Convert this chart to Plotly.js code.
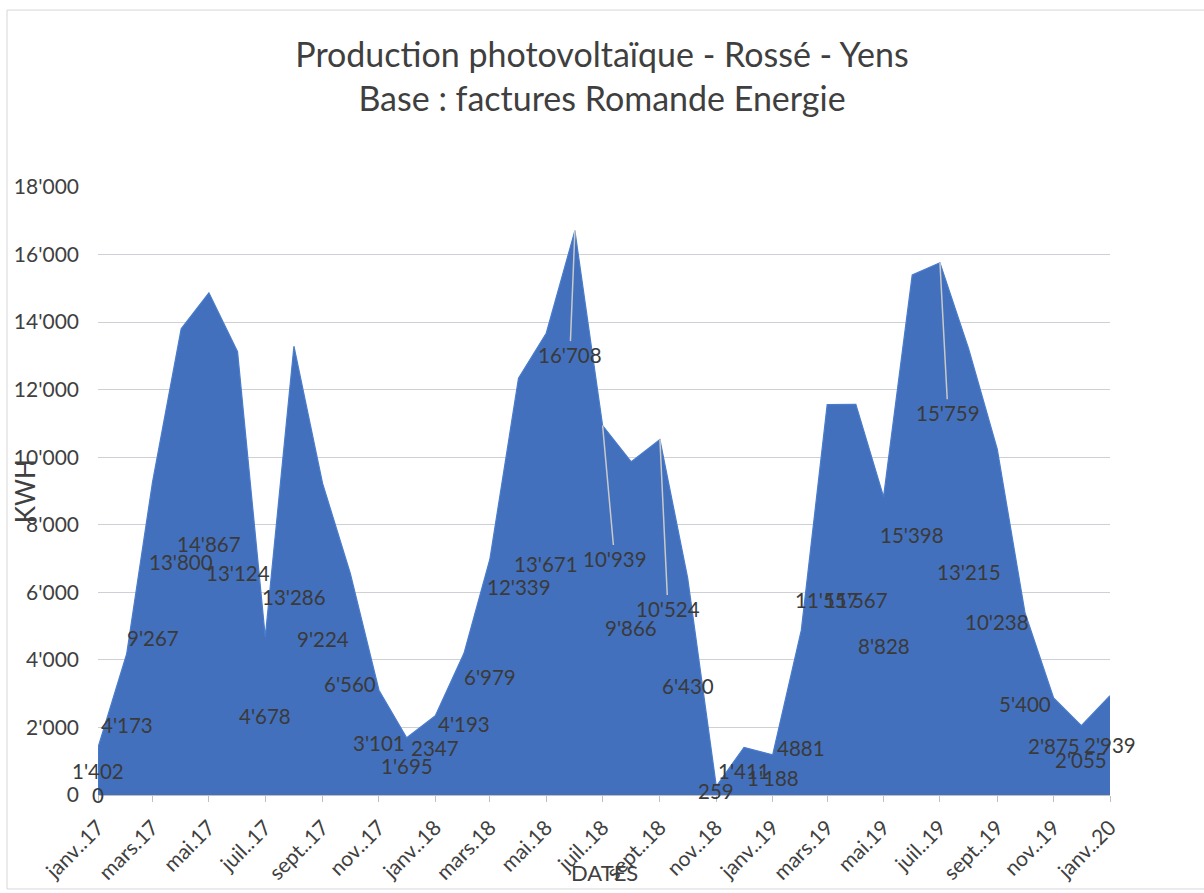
<!DOCTYPE html>
<html>
<head>
<meta charset="utf-8">
<script src="https://cdn.plot.ly/plotly-3.0.1.min.js"></script>
<style>html,body{margin:0;padding:0;background:#fff;}#chart{width:1204px;height:893px;}</style>
</head>
<body>
<div id="chart"></div>
<script>
// ---- data ----
const dates = ['2017-01-01','2017-01-01','2017-02-01','2017-03-01','2017-04-01','2017-05-01','2017-06-01','2017-07-01','2017-08-01','2017-09-01','2017-10-01','2017-11-01','2017-12-01',
  '2018-01-01','2018-02-01','2018-03-01','2018-04-01','2018-05-01','2018-06-01','2018-07-01','2018-08-01','2018-09-01','2018-10-01','2018-11-01','2018-12-01',
  '2019-01-01','2019-02-01','2019-03-01','2019-04-01','2019-05-01','2019-06-01','2019-07-01','2019-08-01','2019-09-01','2019-10-01','2019-11-01','2019-12-01',
  '2020-01-01'];
const kwh = [0,1402,4173,9267,13800,14867,13124,4678,13286,9224,6560,3101,1695,
  2347,4193,6979,12339,13671,16708,10939,9866,10524,6430,259,1411,
  1188,4881,11557,11567,8828,15398,15759,13215,10238,5400,2875,2055,
  2939];
const labels = ["0","1'402","4'173","9'267","13'800","14'867","13'124","4'678","13'286","9'224","6'560","3'101","1'695",
  "2347","4'193","6'979","12'339","13'671","16'708","10'939","9'866","10'524","6'430","259","1'411",
  "1'188","4881","11'557","11'567","8'828","15'398","15'759","13'215","10'238","5'400","2'875","2'055",
  "2'939"];
const tickDates = ['2017-01-01','2017-03-01','2017-05-01','2017-07-01','2017-09-01','2017-11-01',
  '2018-01-01','2018-03-01','2018-05-01','2018-07-01','2018-09-01','2018-11-01',
  '2019-01-01','2019-03-01','2019-05-01','2019-07-01','2019-09-01','2019-11-01','2020-01-01'];
const tickLabels = ['janv..17','mars.17','mai.17','juil..17','sept..17','nov..17',
  'janv..18','mars.18','mai.18','juil..18','sept..18','nov..18',
  'janv..19','mars.19','mai.19','juil..19','sept..19','nov..19','janv..20'];
const yTicks = [0,2000,4000,6000,8000,10000,12000,14000,16000,18000];

// ---- style / label placement tweaks ----
const FONT = 'Lato, "Open Sans", sans-serif';
const leaders = {18:{ax:-5,ay:124}, 19:{ax:12,ay:133}, 21:{ax:8,ay:169}, 31:{ax:8,ay:150}};
const shifts = {8:-26, 13:7, 25:-3, 26:-35};

const annotations = kwh.map((v,i)=>{
  const base = {x:dates[i], xref:'x', yref:'y', text:labels[i],
    font:{family:FONT, size:20.5, color:'#3a3a3a'}};
  if (leaders[i]) {
    return Object.assign(base, {y:v, showarrow:true, arrowhead:0, arrowwidth:1.5,
      arrowcolor:'#c9c9c9', ax:leaders[i].ax, ay:leaders[i].ay, standoff:0});
  }
  return Object.assign(base, {y:v/2, showarrow:false, yshift:(shifts[i]||0)});
});
annotations.push({xref:'paper', yref:'paper', x:0.5, y:-0.127, xanchor:'center', yanchor:'middle',
  text:'DATES', showarrow:false, font:{family:FONT, size:22, color:'#404040'}});
annotations.push({xref:'paper', yref:'paper', x:-0.072, y:0.50, xanchor:'center', yanchor:'middle',
  text:'KWH', textangle:-90, showarrow:false, font:{family:FONT, size:26, color:'#404040'}});

const trace = {
  x: dates, y: kwh, type:'scatter', mode:'lines', fill:'tozeroy',
  fillcolor:'#4270bd', line:{color:'#4a7ccc', width:1.2}, hoverinfo:'skip'
};

const layout = {
  width:1204, height:893,
  margin:{l:98, r:94, t:187, b:98},
  paper_bgcolor:'#ffffff', plot_bgcolor:'#ffffff',
  separators:".'",
  showlegend:false,
  title:{text:'Production photovoltaïque - Rossé - Yens<br>Base : factures Romande Energie',
    x:0.5, xanchor:'center', y:0.925, yanchor:'middle',
    font:{family:FONT, size:34, color:'#3f3f3f'}},
  xaxis:{type:'date', range:['2017-01-01','2020-01-01'], tickmode:'array', tickvals:tickDates, ticktext:tickLabels,
    tickangle:-45, ticks:'outside', ticklen:6, tickcolor:'#bfbfbf', showline:true, linecolor:'#bfbfbf',
    showgrid:false, zeroline:false, tickfont:{family:FONT, size:21, color:'#404040'}, ticklabelstandoff:5},
  yaxis:{range:[0,18000], tickmode:'array', tickvals:yTicks, tickformat:',', showgrid:true, gridcolor:'#cfcfd6',
    gridwidth:1, zeroline:false, showline:false, ticks:'', tickfont:{family:FONT, size:21, color:'#404040'},
    ticklabelstandoff:18},
  annotations: annotations,
  shapes:[{type:'rect', xref:'paper', yref:'paper', x0:-0.0899, x1:1.1, y0:-0.1546, y1:1.291,
    line:{color:'#d6d6d6', width:1}, fillcolor:'rgba(0,0,0,0)', layer:'below'}]
};

Plotly.newPlot('chart', [trace], layout, {displayModeBar:false, staticPlot:true});
</script>
</body>
</html>
